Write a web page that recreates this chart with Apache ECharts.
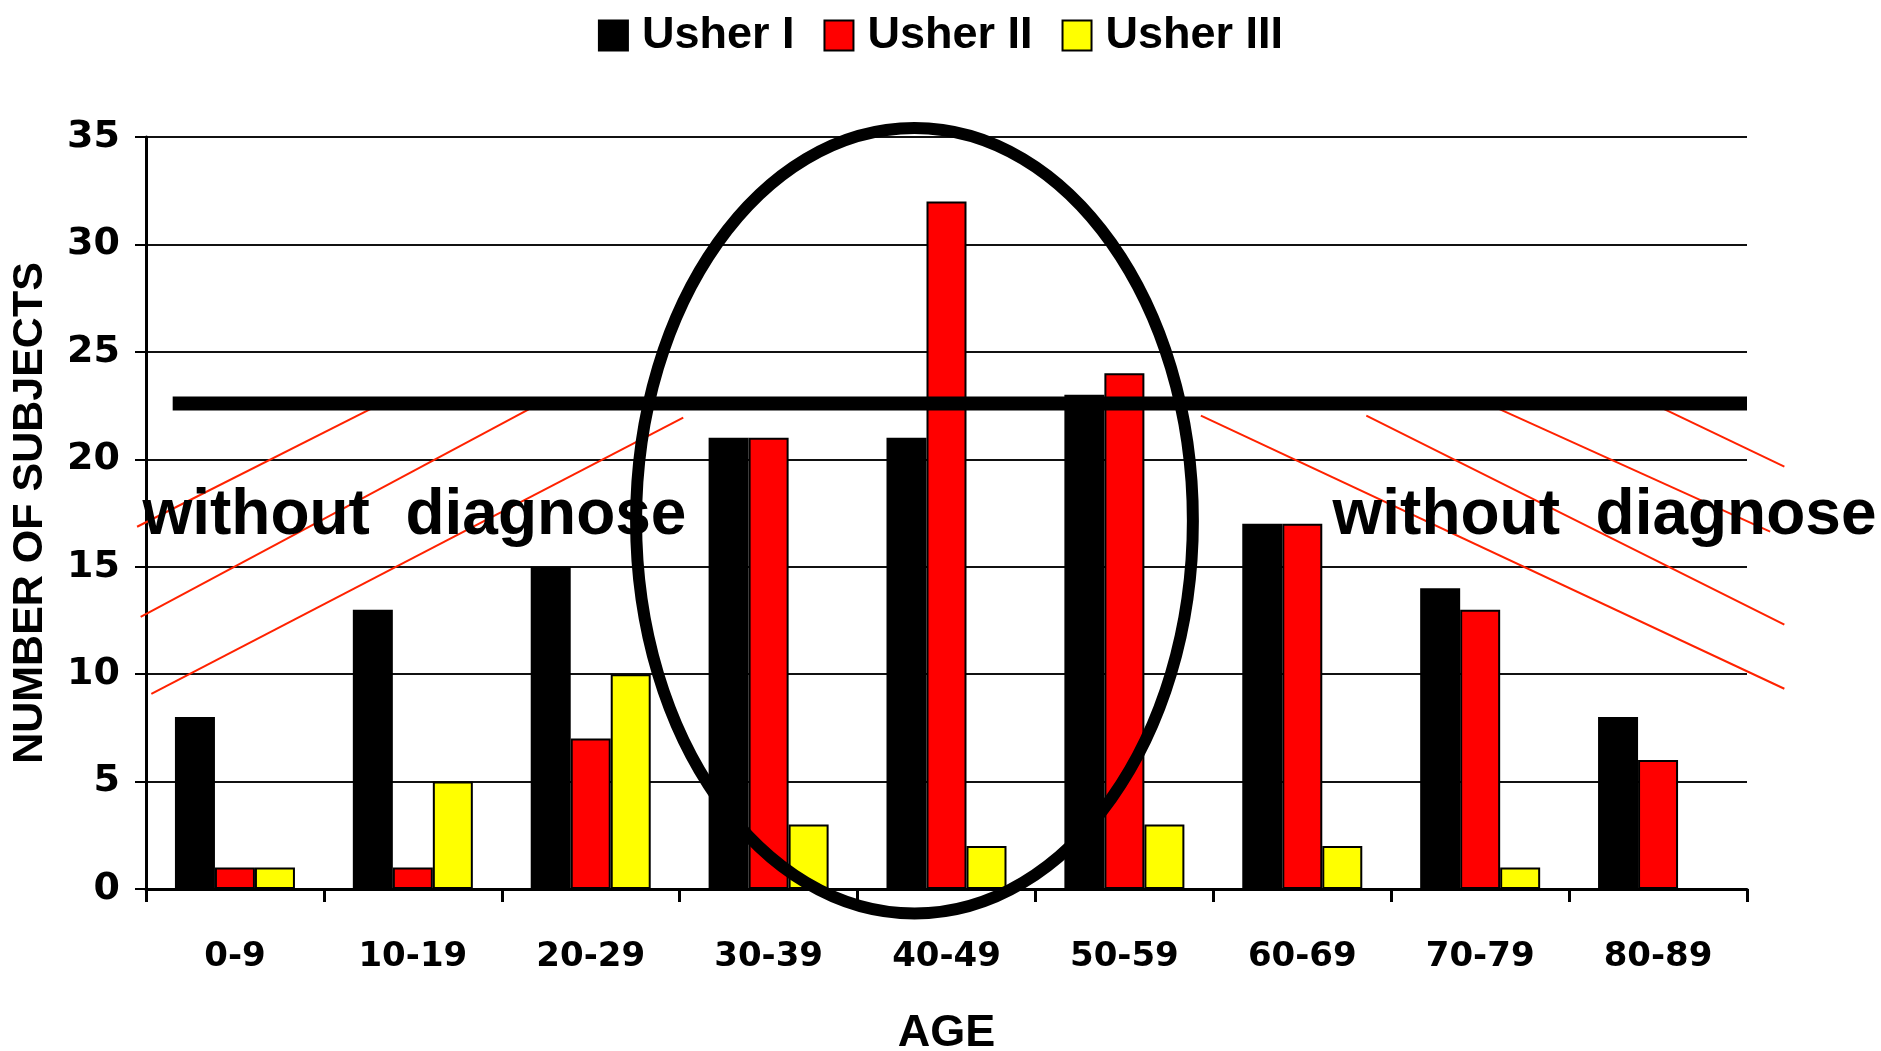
<!DOCTYPE html>
<html>
<head>
<meta charset="utf-8">
<title>Usher subjects by age</title>
<script src="https://cdn.jsdelivr.net/npm/echarts@6/dist/echarts.min.js"></script>
<style>
  html, body { margin: 0; padding: 0; background: #fff; }
  #chart { width: 1881px; height: 1051px; }
</style>
</head>
<body>
<div id="chart"></div>
<script>
// age groups on the x axis
const ages = ['0-9', '10-19', '20-29', '30-39', '40-49', '50-59', '60-69', '70-79', '80-89']
// number of subjects per type
const usherI = [8, 13, 15, 21, 21, 23, 17, 14, 8]
const usherII = [1, 1, 7, 21, 32, 24, 17, 13, 6]
const usherIII = [1, 5, 10, 3, 2, 3, 2, 1, 0]

// annotations, in units of the hidden value x axis (0..9 over the categories) and the y axis
const cutoffLine = [[0.15, 22.6], [9.0, 22.6]]
const hatchLines = [
  [[-0.05, 16.86], [1.30, 22.50]],
  [[-0.03, 12.67], [2.18, 22.45]],
  [[0.03, 9.08], [3.02, 21.94]],
  [[5.93, 22.03], [9.21, 9.32]],
  [[6.86, 22.03], [9.21, 12.30]],
  [[7.54, 22.59], [9.13, 16.63]],
  [[8.47, 22.59], [9.21, 19.66]]
]
const circled = { cx: 4.32, cy: 17.14, rx: 1.565, ry: 18.28 }
const notes = [
  { text: 'without  diagnose', at: [-0.02, 15.85] },
  { text: 'without  diagnose', at: [6.67, 15.85] }
]

const boldFont = "'Liberation Sans', Arial, sans-serif"
const wideFont = "'DejaVu Sans', sans-serif"

const chart = echarts.init(document.getElementById('chart'))

const barStyle = (color) => ({
  color: color,
  borderColor: '#000',
  borderWidth: 2
})

const option = {
  animation: false,
  backgroundColor: '#fff',
  legend: {
    top: 8,
    left: 'center',
    icon: 'rect',
    itemWidth: 29,
    itemHeight: 30,
    itemGap: 29,
    textStyle: {
      fontFamily: boldFont,
      fontWeight: 'bold',
      fontSize: 45,
      color: '#000',
      padding: [0, 0, 0, 9]
    },
    data: ['Usher I', 'Usher II', 'Usher III']
  },
  grid: {
    left: 146,
    right: 134,
    top: 137,
    bottom: 162,
    outerBoundsMode: 'none'
  },
  xAxis: [{
    type: 'category',
    data: ages,
    name: 'AGE',
    nameLocation: 'middle',
    nameGap: 122,
    nameTextStyle: { fontFamily: boldFont, fontWeight: 'bold', fontSize: 45, color: '#000' },
    axisLine: { lineStyle: { color: '#000', width: 3 } },
    axisTick: { show: true, length: 13, lineStyle: { color: '#000', width: 3 } },
    axisLabel: {
      margin: 51,
      fontFamily: wideFont,
      fontWeight: 'bold',
      fontSize: 34,
      color: '#000'
    }
  }, {
    // hidden linear axis used only to place the annotations
    type: 'value',
    min: 0,
    max: 9,
    show: false
  }],
  yAxis: {
    type: 'value',
    min: 0,
    max: 35,
    interval: 5,
    name: 'NUMBER OF SUBJECTS',
    nameLocation: 'middle',
    nameGap: 94,
    nameTextStyle: { fontFamily: boldFont, fontWeight: 'bold', fontSize: 43, color: '#000' },
    axisLine: { show: true, lineStyle: { color: '#000', width: 3 } },
    axisTick: { show: true, length: 11, lineStyle: { color: '#000', width: 2 } },
    axisLabel: {
      margin: 26,
      fontFamily: wideFont,
      fontWeight: 'bold',
      fontSize: 38,
      color: '#000'
    },
    splitLine: { show: true, lineStyle: { color: '#111', width: 2 } }
  },
  series: [
    { name: 'Usher I', type: 'bar', data: usherI, barWidth: 40, barGap: '0%', itemStyle: barStyle('#000') },
    { name: 'Usher II', type: 'bar', data: usherII, barWidth: 40, barGap: '0%', itemStyle: barStyle('#ff0000') },
    { name: 'Usher III', type: 'bar', data: usherIII, barWidth: 40, barGap: '0%', itemStyle: barStyle('#ffff00') }
  ]
}

chart.setOption(option)

// annotations: drawn after layout so they follow the axes
const toPx = (p) => chart.convertToPixel({ xAxisIndex: 1, yAxisIndex: 0 }, p)
const graphics = []

hatchLines.forEach(function (seg) {
  const a = toPx(seg[0])
  const b = toPx(seg[1])
  graphics.push({
    type: 'line',
    z: 100,
    shape: { x1: a[0], y1: a[1], x2: b[0], y2: b[1] },
    style: { stroke: '#ff2200', lineWidth: 2 }
  })
})

notes.forEach(function (n) {
  const p = toPx(n.at)
  graphics.push({
    type: 'text',
    z: 101,
    x: p[0],
    y: p[1],
    style: {
      text: n.text,
      fill: '#000',
      font: 'bold 64px ' + boldFont,
      align: 'left',
      verticalAlign: 'bottom'
    }
  })
})

const c0 = toPx([circled.cx, circled.cy])
const cR = toPx([circled.cx + circled.rx, circled.cy + circled.ry])
graphics.push({
  type: 'ellipse',
  z: 102,
  shape: { cx: c0[0], cy: c0[1], rx: cR[0] - c0[0], ry: c0[1] - cR[1] },
  style: { fill: 'none', stroke: '#000', lineWidth: 12 }
})

const l0 = toPx(cutoffLine[0])
const l1 = toPx(cutoffLine[1])
graphics.push({
  type: 'line',
  z: 103,
  shape: { x1: l0[0], y1: l0[1], x2: l1[0], y2: l1[1] },
  style: { stroke: '#000', lineWidth: 14 }
})

chart.setOption({ graphic: graphics })
</script>
</body>
</html>
